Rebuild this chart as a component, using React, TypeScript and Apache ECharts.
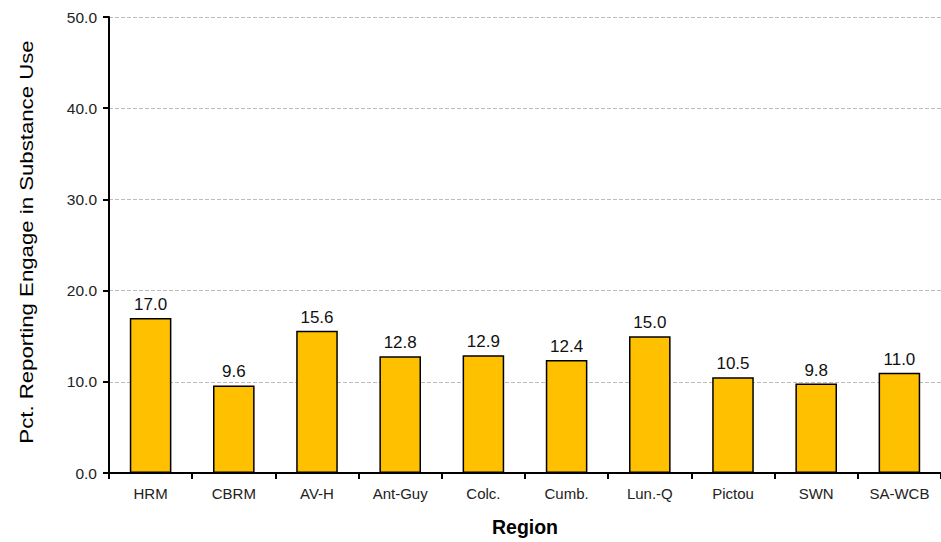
import React, { useEffect, useRef } from "react";
import * as echarts from "echarts";

const categories = ["HRM", "CBRM", "AV-H", "Ant-Guy", "Colc.", "Cumb.", "Lun.-Q", "Pictou", "SWN", "SA-WCB"];
const values = [17.0, 9.6, 15.6, 12.8, 12.9, 12.4, 15.0, 10.5, 9.8, 11.0];
const yAxisName = "Pct. Reporting Engage in Substance Use";
const xAxisName = "Region";

export default function App() {
  const ref = useRef<HTMLDivElement>(null);
  useEffect(() => {
    if (!ref.current) return;
    const chart = echarts.init(ref.current, null, { renderer: "svg" });
    const font = "Liberation Sans, Arial, sans-serif";
    chart.setOption({
      animation: false,
      grid: { left: 109, right: 0, top: 17, bottom: 66, containLabel: false },
      graphic: [
        {
          type: "text",
          x: 27,
          y: 242,
          rotation: Math.PI / 2,
          scaleX: 1.2,
          style: {
            text: yAxisName,
            fontFamily: font,
            fontSize: 18.5,
            fill: "#000",
            align: "center",
            verticalAlign: "middle",
          },
        },
      ],
      xAxis: {
        type: "category",
        data: categories,
        name: xAxisName,
        nameLocation: "middle",
        nameGap: 44,
        nameTextStyle: { fontFamily: font, fontSize: 19.5, fontWeight: "bold", color: "#000" },
        axisLine: { lineStyle: { color: "#000", width: 2 } },
        axisTick: { show: true, alignWithLabel: false, length: 6, lineStyle: { color: "#000", width: 2 } },
        axisLabel: { fontFamily: font, fontSize: 15, color: "#222", margin: 13 },
      },
      yAxis: {
        type: "value",
        min: 0,
        max: 50,
        interval: 10,
        axisLine: { show: true, lineStyle: { color: "#000", width: 2 } },
        axisTick: { show: true, length: 6, lineStyle: { color: "#000", width: 2 } },
        axisLabel: { fontFamily: font, fontSize: 15.5, color: "#222", margin: 12, formatter: (v: number) => v.toFixed(1) },
        splitLine: { show: true, lineStyle: { color: "#bbb", type: "dashed", width: 1 } },
      },
      series: [
        {
          type: "bar",
          data: values,
          barWidth: "50%",
          itemStyle: { color: "#FFC000", borderColor: "#000", borderWidth: 1.5 },
          label: {
            show: true,
            position: "top",
            distance: 5,
            fontFamily: font,
            fontSize: 17,
            color: "#111",
            formatter: (p: any) => Number(p.value).toFixed(1),
          },
        },
      ],
    });
    return () => chart.dispose();
  }, []);
  return <div ref={ref} style={{ width: 941, height: 542, position: "absolute", left: 0, top: 0 }} />;
}
